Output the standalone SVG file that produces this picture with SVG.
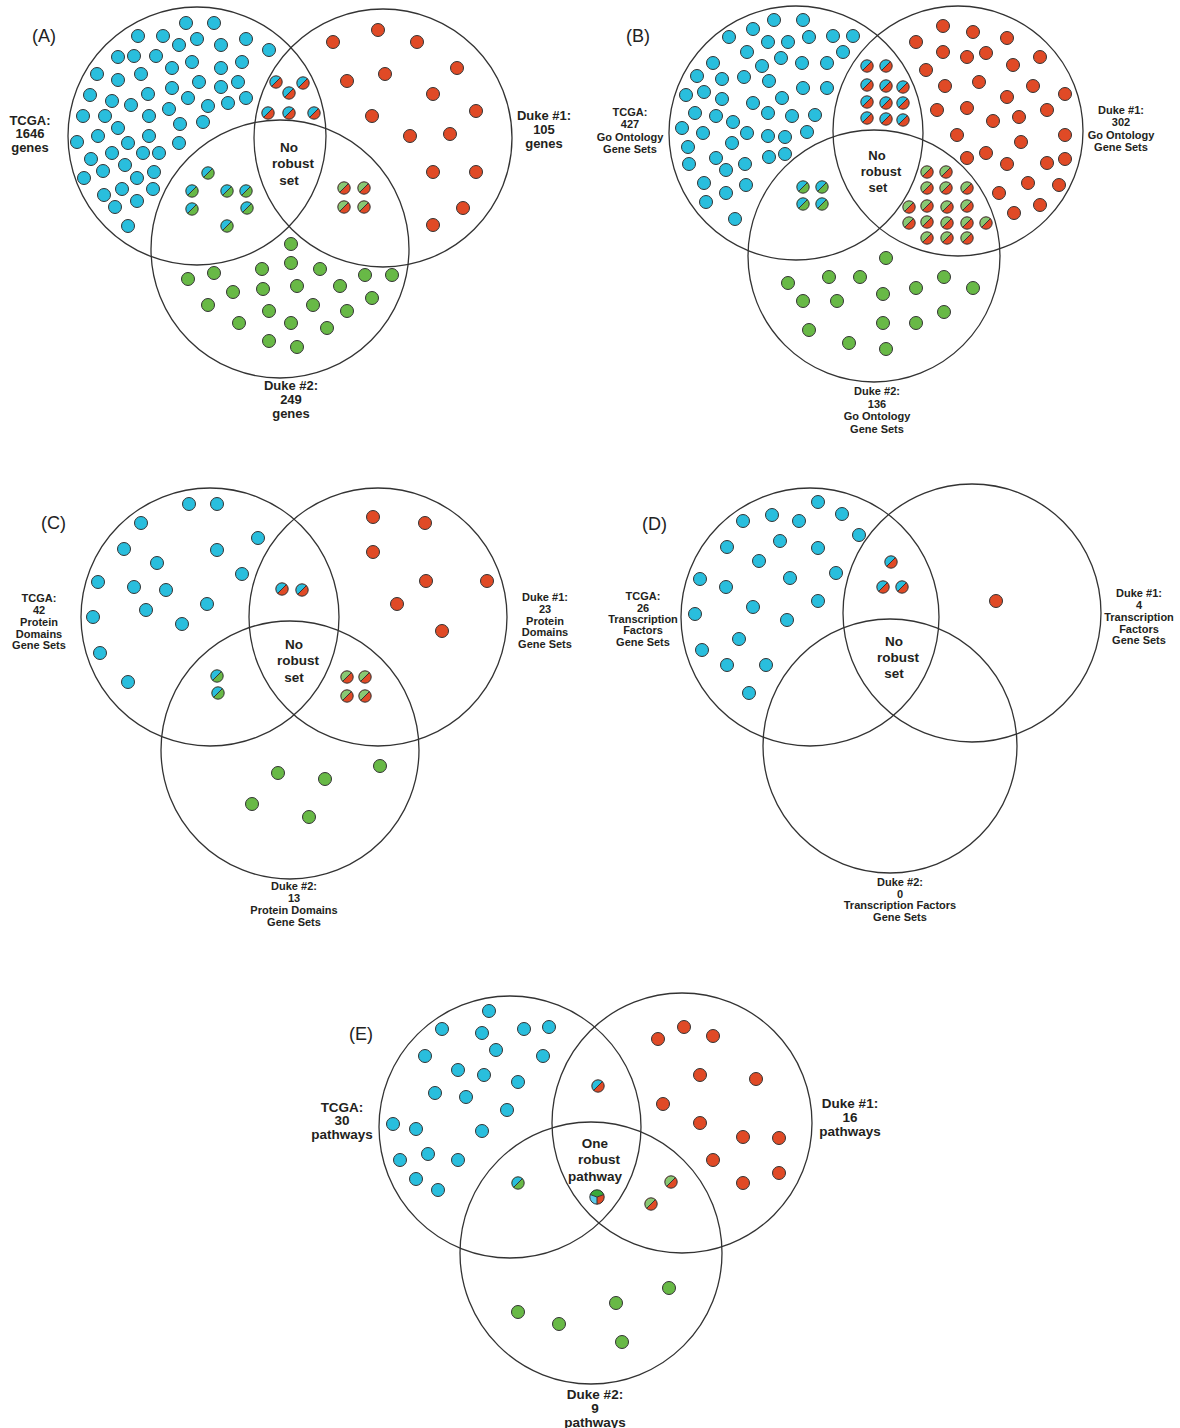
<svg xmlns="http://www.w3.org/2000/svg" xmlns:xlink="http://www.w3.org/1999/xlink" width="1180" height="1428" viewBox="0 0 1180 1428">
<style>
.venn{fill:none;stroke:#333;stroke-width:1.3}
.lbl{font-family:"Liberation Sans",Arial,sans-serif;font-weight:bold;fill:#231f20;text-anchor:middle}
.s11{font-size:11px}
.s13{font-size:13px}
.s135{font-size:13.5px}
.pl{font-family:"Liberation Sans",Arial,sans-serif;font-size:18px;fill:#222}
</style>
<defs>
<g id="b"><circle r="6.5" fill="#29bedd" stroke="#333" stroke-width="1"/></g>
<g id="r"><circle r="6.5" fill="#e04a26" stroke="#333" stroke-width="1"/></g>
<g id="g"><circle r="6.5" fill="#68b946" stroke="#333" stroke-width="1"/></g>
<g id="br"><circle r="6.2" fill="#e04a26"/><path d="M4.38,-4.38 A6.2,6.2 0 0 0 -4.38,4.38 Z" fill="#29bedd"/><line x1="4.38" y1="-4.38" x2="-4.38" y2="4.38" stroke="#333" stroke-width="1"/><circle r="6.2" fill="none" stroke="#333" stroke-width="1"/></g>
<g id="bg"><circle r="6.2" fill="#68b946"/><path d="M4.38,-4.38 A6.2,6.2 0 0 0 -4.38,4.38 Z" fill="#29bedd"/><line x1="4.38" y1="-4.38" x2="-4.38" y2="4.38" stroke="#333" stroke-width="1"/><circle r="6.2" fill="none" stroke="#333" stroke-width="1"/></g>
<g id="gr"><circle r="6.2" fill="#e04a26"/><path d="M4.38,-4.38 A6.2,6.2 0 0 0 -4.38,4.38 Z" fill="#88c873"/><line x1="4.38" y1="-4.38" x2="-4.38" y2="4.38" stroke="#333" stroke-width="1"/><circle r="6.2" fill="none" stroke="#333" stroke-width="1"/></g>
<g id="tri"><path d="M0,0 L-6.77,-2.46 A7.2,7.2 0 0 1 6.77,-2.46 Z" fill="#3aaa3a"/><path d="M0,0 L6.77,-2.46 A7.2,7.2 0 0 1 0,7.2 Z" fill="#e04a26"/><path d="M0,0 L0,7.2 A7.2,7.2 0 0 1 -6.77,-2.46 Z" fill="#5ccbea"/><path d="M0,0 L-6.77,-2.46 M0,0 L6.77,-2.46 M0,0 L0,7.2" stroke="#333" stroke-width="1" fill="none"/><circle r="7.2" fill="none" stroke="#333" stroke-width="1"/></g>
</defs>
<rect width="1180" height="1428" fill="#fff"/>

<!-- Panel A -->
<g id="panelA">
<text class="pl" x="32" y="42">(A)</text>
<g id="A-tcga"><circle class="venn" cx="197" cy="136" r="129"/>
<text class="lbl s13"><tspan x="30" y="124.5">TCGA:</tspan><tspan x="30" y="138">1646</tspan><tspan x="30" y="152">genes</tspan></text></g>
<g id="A-duke1"><circle class="venn" cx="383" cy="138" r="129"/>
<text class="lbl s13"><tspan x="544" y="120">Duke #1:</tspan><tspan x="544" y="134">105</tspan><tspan x="544" y="148">genes</tspan></text></g>
<g id="A-duke2"><circle class="venn" cx="280" cy="249" r="129"/>
<text class="lbl s13"><tspan x="291" y="390">Duke #2:</tspan><tspan x="291" y="404">249</tspan><tspan x="291" y="418">genes</tspan></text></g>
<text class="lbl s135"><tspan x="289" y="152">No</tspan><tspan x="293" y="168">robust</tspan><tspan x="289" y="185">set</tspan></text>
<g id="A-dots">
<use href="#b" x="186" y="23"/><use href="#b" x="214" y="23"/><use href="#b" x="138" y="36"/><use href="#b" x="163" y="36"/><use href="#b" x="179" y="45"/><use href="#b" x="197" y="39"/><use href="#b" x="221" y="45"/><use href="#b" x="246" y="39"/><use href="#b" x="269" y="50"/><use href="#b" x="118" y="57"/><use href="#b" x="134" y="56"/><use href="#b" x="156" y="56"/><use href="#b" x="172" y="68"/><use href="#b" x="192" y="62"/><use href="#b" x="221" y="68"/><use href="#b" x="242" y="62"/><use href="#b" x="97" y="74"/><use href="#b" x="118" y="80"/><use href="#b" x="141" y="74"/><use href="#b" x="172" y="88"/><use href="#b" x="199" y="82"/><use href="#b" x="221" y="87"/><use href="#b" x="238" y="82"/><use href="#b" x="90" y="95"/><use href="#b" x="112" y="101"/><use href="#b" x="131" y="105"/><use href="#b" x="148" y="94"/><use href="#b" x="188" y="98"/><use href="#b" x="208" y="106"/><use href="#b" x="228" y="103"/><use href="#b" x="246" y="98"/><use href="#b" x="83" y="116"/><use href="#b" x="105" y="116"/><use href="#b" x="118" y="128"/><use href="#b" x="149" y="116"/><use href="#b" x="169" y="109"/><use href="#b" x="180" y="124"/><use href="#b" x="203" y="122"/><use href="#b" x="77" y="142"/><use href="#b" x="98" y="136"/><use href="#b" x="128" y="143"/><use href="#b" x="149" y="136"/><use href="#b" x="179" y="143"/><use href="#b" x="91" y="159"/><use href="#b" x="112" y="153"/><use href="#b" x="143" y="153"/><use href="#b" x="159" y="153"/><use href="#b" x="84" y="178"/><use href="#b" x="103" y="171"/><use href="#b" x="125" y="165"/><use href="#b" x="137" y="178"/><use href="#b" x="154" y="172"/><use href="#b" x="104" y="195"/><use href="#b" x="122" y="189"/><use href="#b" x="153" y="189"/><use href="#b" x="115" y="207"/><use href="#b" x="137" y="201"/><use href="#b" x="128" y="226"/>
<use href="#br" x="276" y="82"/><use href="#br" x="303" y="83"/><use href="#br" x="289" y="93"/><use href="#br" x="268" y="113"/><use href="#br" x="289" y="113"/><use href="#br" x="314" y="113"/>
<use href="#r" x="333" y="42"/><use href="#r" x="378" y="30"/><use href="#r" x="417" y="42"/><use href="#r" x="457" y="68"/><use href="#r" x="347" y="81"/><use href="#r" x="385" y="74"/><use href="#r" x="433" y="94"/><use href="#r" x="476" y="111"/><use href="#r" x="372" y="116"/><use href="#r" x="410" y="136"/><use href="#r" x="450" y="134"/><use href="#r" x="433" y="172"/><use href="#r" x="476" y="172"/><use href="#r" x="463" y="208"/><use href="#r" x="433" y="225"/>
<use href="#bg" x="208" y="173"/><use href="#bg" x="192" y="191"/><use href="#bg" x="227" y="191"/><use href="#bg" x="246" y="191"/><use href="#bg" x="192" y="209"/><use href="#bg" x="247" y="208"/><use href="#bg" x="227" y="226"/>
<use href="#gr" x="344" y="188"/><use href="#gr" x="364" y="188"/><use href="#gr" x="344" y="207"/><use href="#gr" x="364" y="207"/>
<use href="#g" x="291" y="244"/><use href="#g" x="291" y="263"/><use href="#g" x="262" y="269"/><use href="#g" x="320" y="269"/><use href="#g" x="188" y="279"/><use href="#g" x="214" y="273"/><use href="#g" x="365" y="275"/><use href="#g" x="392" y="275"/><use href="#g" x="233" y="292"/><use href="#g" x="263" y="289"/><use href="#g" x="297" y="286"/><use href="#g" x="340" y="286"/><use href="#g" x="208" y="305"/><use href="#g" x="269" y="311"/><use href="#g" x="313" y="305"/><use href="#g" x="347" y="311"/><use href="#g" x="372" y="298"/><use href="#g" x="239" y="323"/><use href="#g" x="291" y="323"/><use href="#g" x="327" y="328"/><use href="#g" x="269" y="341"/><use href="#g" x="297" y="347"/>
</g>
</g>

<!-- Panel B -->
<g id="panelB">
<text class="pl" x="626" y="42">(B)</text>
<g id="B-tcga"><circle class="venn" cx="796" cy="133" r="127"/>
<text class="lbl s11"><tspan x="630" y="116">TCGA:</tspan><tspan x="630" y="128">427</tspan><tspan x="630" y="140.5">Go Ontology</tspan><tspan x="630" y="153">Gene Sets</tspan></text></g>
<g id="B-duke1"><circle class="venn" cx="958" cy="131" r="125"/>
<text class="lbl s11"><tspan x="1121" y="114">Duke #1:</tspan><tspan x="1121" y="126">302</tspan><tspan x="1121" y="138.5">Go Ontology</tspan><tspan x="1121" y="151">Gene Sets</tspan></text></g>
<g id="B-duke2"><circle class="venn" cx="874" cy="256" r="126"/>
<text class="lbl s11"><tspan x="877" y="395">Duke #2:</tspan><tspan x="877" y="407.5">136</tspan><tspan x="877" y="420">Go Ontology</tspan><tspan x="877" y="433">Gene Sets</tspan></text></g>
<text class="lbl s13"><tspan x="877" y="160">No</tspan><tspan x="881" y="176">robust</tspan><tspan x="878" y="192">set</tspan></text>
<g id="B-dots">
<use href="#b" x="774" y="20"/><use href="#b" x="803" y="20"/><use href="#b" x="753" y="29"/><use href="#b" x="729" y="37"/><use href="#b" x="768" y="42"/><use href="#b" x="788" y="42"/><use href="#b" x="809" y="37"/><use href="#b" x="833" y="36"/><use href="#b" x="853" y="36"/><use href="#b" x="747" y="52"/><use href="#b" x="781" y="58"/><use href="#b" x="762" y="66"/><use href="#b" x="802" y="63"/><use href="#b" x="827" y="63"/><use href="#b" x="843" y="52"/><use href="#b" x="713" y="63"/><use href="#b" x="697" y="76"/><use href="#b" x="722" y="79"/><use href="#b" x="744" y="77"/><use href="#b" x="769" y="81"/><use href="#b" x="803" y="88"/><use href="#b" x="827" y="88"/><use href="#b" x="686" y="95"/><use href="#b" x="704" y="92"/><use href="#b" x="722" y="99"/><use href="#b" x="753" y="103"/><use href="#b" x="782" y="98"/><use href="#b" x="695" y="113"/><use href="#b" x="716" y="116"/><use href="#b" x="733" y="122"/><use href="#b" x="768" y="113"/><use href="#b" x="792" y="116"/><use href="#b" x="815" y="115"/><use href="#b" x="682" y="128"/><use href="#b" x="703" y="133"/><use href="#b" x="747" y="133"/><use href="#b" x="768" y="136"/><use href="#b" x="785" y="137"/><use href="#b" x="807" y="132"/><use href="#b" x="688" y="147"/><use href="#b" x="732" y="143"/><use href="#b" x="716" y="158"/><use href="#b" x="769" y="157"/><use href="#b" x="785" y="154"/><use href="#b" x="689" y="164"/><use href="#b" x="726" y="170"/><use href="#b" x="745" y="164"/><use href="#b" x="704" y="183"/><use href="#b" x="746" y="185"/><use href="#b" x="726" y="193"/><use href="#b" x="706" y="202"/><use href="#b" x="735" y="219"/>
<use href="#br" x="867" y="66"/><use href="#br" x="886" y="66"/><use href="#br" x="867" y="85"/><use href="#br" x="886" y="86"/><use href="#br" x="903" y="87"/><use href="#br" x="867" y="102"/><use href="#br" x="886" y="103"/><use href="#br" x="903" y="103"/><use href="#br" x="867" y="118"/><use href="#br" x="886" y="119"/><use href="#br" x="903" y="120"/>
<use href="#r" x="943" y="26"/><use href="#r" x="973" y="32"/><use href="#r" x="1007" y="38"/><use href="#r" x="916" y="42"/><use href="#r" x="943" y="52"/><use href="#r" x="967" y="57"/><use href="#r" x="986" y="53"/><use href="#r" x="1013" y="65"/><use href="#r" x="1040" y="57"/><use href="#r" x="926" y="70"/><use href="#r" x="945" y="86"/><use href="#r" x="979" y="82"/><use href="#r" x="1033" y="86"/><use href="#r" x="1065" y="94"/><use href="#r" x="1007" y="97"/><use href="#r" x="937" y="110"/><use href="#r" x="967" y="108"/><use href="#r" x="993" y="121"/><use href="#r" x="1019" y="117"/><use href="#r" x="1047" y="110"/><use href="#r" x="957" y="135"/><use href="#r" x="1021" y="142"/><use href="#r" x="1065" y="135"/><use href="#r" x="967" y="158"/><use href="#r" x="986" y="153"/><use href="#r" x="1007" y="164"/><use href="#r" x="1047" y="163"/><use href="#r" x="1065" y="159"/><use href="#r" x="1028" y="183"/><use href="#r" x="1059" y="185"/><use href="#r" x="999" y="193"/><use href="#r" x="1040" y="205"/><use href="#r" x="1014" y="213"/>
<use href="#gr" x="927" y="172"/><use href="#gr" x="946" y="172"/><use href="#gr" x="927" y="188"/><use href="#gr" x="946" y="188"/><use href="#gr" x="967" y="188"/><use href="#gr" x="909" y="207"/><use href="#gr" x="927" y="206"/><use href="#gr" x="947" y="207"/><use href="#gr" x="967" y="206"/><use href="#gr" x="909" y="223"/><use href="#gr" x="927" y="222"/><use href="#gr" x="947" y="223"/><use href="#gr" x="967" y="223"/><use href="#gr" x="986" y="223"/><use href="#gr" x="927" y="238"/><use href="#gr" x="947" y="238"/><use href="#gr" x="967" y="238"/>
<use href="#bg" x="803" y="187"/><use href="#bg" x="822" y="187"/><use href="#bg" x="803" y="204"/><use href="#bg" x="822" y="204"/>
<use href="#g" x="886" y="258"/><use href="#g" x="788" y="283"/><use href="#g" x="829" y="277"/><use href="#g" x="860" y="277"/><use href="#g" x="944" y="277"/><use href="#g" x="973" y="288"/><use href="#g" x="803" y="301"/><use href="#g" x="837" y="301"/><use href="#g" x="883" y="294"/><use href="#g" x="916" y="288"/><use href="#g" x="944" y="312"/><use href="#g" x="809" y="330"/><use href="#g" x="883" y="323"/><use href="#g" x="916" y="323"/><use href="#g" x="849" y="343"/><use href="#g" x="886" y="349"/>
</g>
</g>

<!-- Panel C -->
<g id="panelC">
<text class="pl" x="41" y="529">(C)</text>
<g id="C-tcga"><circle class="venn" cx="210" cy="617" r="129"/>
<text class="lbl s11"><tspan x="39" y="602">TCGA:</tspan><tspan x="39" y="614">42</tspan><tspan x="39" y="626">Protein</tspan><tspan x="39" y="637.5">Domains</tspan><tspan x="39" y="649">Gene Sets</tspan></text></g>
<g id="C-duke1"><circle class="venn" cx="378" cy="617" r="129"/>
<text class="lbl s11"><tspan x="545" y="601">Duke #1:</tspan><tspan x="545" y="613">23</tspan><tspan x="545" y="624.5">Protein</tspan><tspan x="545" y="636">Domains</tspan><tspan x="545" y="648">Gene Sets</tspan></text></g>
<g id="C-duke2"><circle class="venn" cx="290" cy="750" r="129"/>
<text class="lbl s11"><tspan x="294" y="890">Duke #2:</tspan><tspan x="294" y="902">13</tspan><tspan x="294" y="914">Protein Domains</tspan><tspan x="294" y="925.5">Gene Sets</tspan></text></g>
<text class="lbl s135"><tspan x="294" y="649">No</tspan><tspan x="298" y="665">robust</tspan><tspan x="294" y="682">set</tspan></text>
<g id="C-dots">
<use href="#b" x="189" y="504"/><use href="#b" x="217" y="504"/><use href="#b" x="141" y="523"/><use href="#b" x="258" y="538"/><use href="#b" x="124" y="549"/><use href="#b" x="217" y="550"/><use href="#b" x="157" y="563"/><use href="#b" x="242" y="574"/><use href="#b" x="98" y="582"/><use href="#b" x="134" y="587"/><use href="#b" x="166" y="590"/><use href="#b" x="207" y="604"/><use href="#b" x="146" y="610"/><use href="#b" x="182" y="624"/><use href="#b" x="93" y="617"/><use href="#b" x="100" y="653"/><use href="#b" x="128" y="682"/>
<use href="#br" x="282" y="589"/><use href="#br" x="302" y="590"/>
<use href="#bg" x="217" y="676"/><use href="#bg" x="218" y="693"/>
<use href="#gr" x="347" y="677"/><use href="#gr" x="365" y="677"/><use href="#gr" x="347" y="696"/><use href="#gr" x="365" y="696"/>
<use href="#r" x="373" y="517"/><use href="#r" x="425" y="523"/><use href="#r" x="373" y="552"/><use href="#r" x="426" y="581"/><use href="#r" x="487" y="581"/><use href="#r" x="397" y="604"/><use href="#r" x="442" y="631"/>
<use href="#g" x="278" y="773"/><use href="#g" x="325" y="779"/><use href="#g" x="380" y="766"/><use href="#g" x="252" y="804"/><use href="#g" x="309" y="817"/>
</g>
</g>

<!-- Panel D -->
<g id="panelD">
<text class="pl" x="642" y="530">(D)</text>
<g id="D-tcga"><circle class="venn" cx="810" cy="617" r="129"/>
<text class="lbl s11"><tspan x="643" y="600">TCGA:</tspan><tspan x="643" y="611.5">26</tspan><tspan x="643" y="622.5">Transcription</tspan><tspan x="643" y="634">Factors</tspan><tspan x="643" y="646">Gene Sets</tspan></text></g>
<g id="D-duke1"><circle class="venn" cx="972" cy="613" r="129"/>
<text class="lbl s11"><tspan x="1139" y="597">Duke #1:</tspan><tspan x="1139" y="609">4</tspan><tspan x="1139" y="621">Transcription</tspan><tspan x="1139" y="633">Factors</tspan><tspan x="1139" y="644">Gene Sets</tspan></text></g>
<g id="D-duke2"><circle class="venn" cx="890" cy="746" r="127"/>
<text class="lbl s11"><tspan x="900" y="886">Duke #2:</tspan><tspan x="900" y="897.5">0</tspan><tspan x="900" y="909">Transcription Factors</tspan><tspan x="900" y="921">Gene Sets</tspan></text></g>
<text class="lbl s135"><tspan x="894" y="646">No</tspan><tspan x="898" y="662">robust</tspan><tspan x="894" y="678">set</tspan></text>
<g id="D-dots">
<use href="#b" x="818" y="502"/><use href="#b" x="772" y="515"/><use href="#b" x="799" y="521"/><use href="#b" x="842" y="514"/><use href="#b" x="743" y="521"/><use href="#b" x="859" y="535"/><use href="#b" x="780" y="541"/><use href="#b" x="818" y="548"/><use href="#b" x="727" y="547"/><use href="#b" x="759" y="561"/><use href="#b" x="836" y="573"/><use href="#b" x="790" y="578"/><use href="#b" x="700" y="579"/><use href="#b" x="726" y="587"/><use href="#b" x="818" y="601"/><use href="#b" x="753" y="607"/><use href="#b" x="695" y="614"/><use href="#b" x="787" y="620"/><use href="#b" x="739" y="639"/><use href="#b" x="702" y="650"/><use href="#b" x="727" y="665"/><use href="#b" x="766" y="665"/><use href="#b" x="749" y="693"/>
<use href="#br" x="891" y="562"/><use href="#br" x="883" y="587"/><use href="#br" x="902" y="587"/>
<use href="#r" x="996" y="601"/>
</g>
</g>

<!-- Panel E -->
<g id="panelE">
<text class="pl" x="349" y="1040">(E)</text>
<g id="E-tcga"><circle class="venn" cx="510" cy="1127" r="131"/>
<text class="lbl s135"><tspan x="342" y="1112">TCGA:</tspan><tspan x="342" y="1125">30</tspan><tspan x="342" y="1139">pathways</tspan></text></g>
<g id="E-duke1"><circle class="venn" cx="682" cy="1123" r="130"/>
<text class="lbl s135"><tspan x="850" y="1108">Duke #1:</tspan><tspan x="850" y="1122">16</tspan><tspan x="850" y="1136">pathways</tspan></text></g>
<g id="E-duke2"><circle class="venn" cx="591" cy="1253" r="131"/>
<text class="lbl s135"><tspan x="595" y="1399">Duke #2:</tspan><tspan x="595" y="1413">9</tspan><tspan x="595" y="1427">pathways</tspan></text></g>
<text class="lbl s135"><tspan x="595" y="1148">One</tspan><tspan x="599" y="1164">robust</tspan><tspan x="595" y="1181">pathway</tspan></text>
<g id="E-dots">
<use href="#b" x="489" y="1011"/><use href="#b" x="442" y="1029"/><use href="#b" x="482" y="1033"/><use href="#b" x="524" y="1029"/><use href="#b" x="549" y="1027"/><use href="#b" x="425" y="1056"/><use href="#b" x="496" y="1050"/><use href="#b" x="543" y="1056"/><use href="#b" x="458" y="1070"/><use href="#b" x="484" y="1075"/><use href="#b" x="518" y="1082"/><use href="#b" x="435" y="1093"/><use href="#b" x="466" y="1097"/><use href="#b" x="507" y="1110"/><use href="#b" x="393" y="1124"/><use href="#b" x="416" y="1129"/><use href="#b" x="482" y="1131"/><use href="#b" x="400" y="1160"/><use href="#b" x="428" y="1154"/><use href="#b" x="458" y="1160"/><use href="#b" x="416" y="1179"/><use href="#b" x="438" y="1190"/>
<use href="#br" x="598" y="1086"/>
<use href="#bg" x="518" y="1183"/>
<use href="#tri" x="597" y="1197"/>
<use href="#gr" x="671" y="1182"/><use href="#gr" x="651" y="1204"/>
<use href="#r" x="684" y="1027"/><use href="#r" x="658" y="1039"/><use href="#r" x="713" y="1036"/><use href="#r" x="700" y="1075"/><use href="#r" x="756" y="1079"/><use href="#r" x="663" y="1104"/><use href="#r" x="700" y="1123"/><use href="#r" x="743" y="1137"/><use href="#r" x="779" y="1138"/><use href="#r" x="713" y="1160"/><use href="#r" x="743" y="1183"/><use href="#r" x="779" y="1173"/>
<use href="#g" x="518" y="1312"/><use href="#g" x="559" y="1324"/><use href="#g" x="616" y="1303"/><use href="#g" x="669" y="1288"/><use href="#g" x="622" y="1342"/>
</g>
</g>
<g id="connectors"/>
</svg>
